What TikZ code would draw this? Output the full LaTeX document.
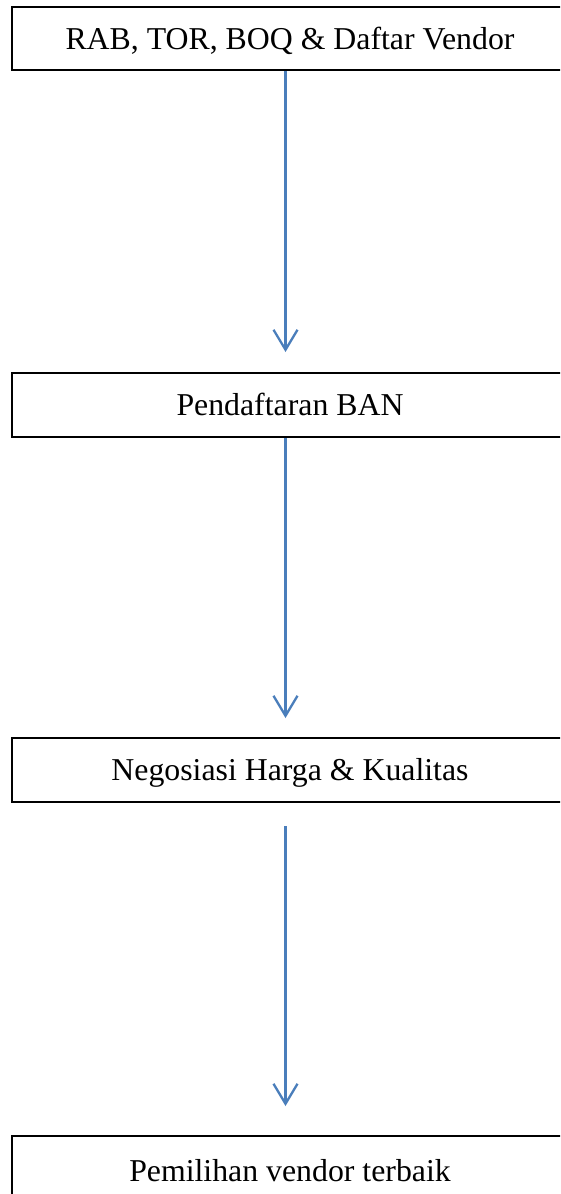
\documentclass[tikz,border=0pt]{standalone}
\usepackage{fontspec}
\setmainfont{Liberation Serif}
\usetikzlibrary{arrows.meta}
\definecolor{flowblue}{RGB}{74,126,187}
\begin{document}
\begin{tikzpicture}[x=1pt,y=-1pt,
  stepbox/.style={draw=black,line width=2pt,minimum width=556pt,inner sep=0pt,
    text height=21pt,text depth=0pt,font=\fontsize{31.8}{38}\selectfont},
  flow/.style={draw=flowblue,line width=2.3pt,
    -{Straight Barb[length=20pt,width=24pt,line join=miter]}}]
\useasboundingbox (0,0) rectangle (560,1194);
\clip (0,0) rectangle (560,1194);
\fill[white] (0,0) rectangle (560,1194);
\coordinate (ax) at (285.5,0);
\node[stepbox,minimum height=63pt] (b1) at (290,38.5) {RAB, TOR, BOQ \& Daftar Vendor};
\node[stepbox,minimum height=64pt] (b2) at (290,405) {Pendaftaran BAN};
\node[stepbox,minimum height=64pt] (b3) at (290,770) {Negosiasi Harga \& Kualitas};
\node[stepbox,minimum height=70pt] (b4) at (290,1171) {Pemilihan vendor terbaik};
\draw[flow,shorten >=20pt] (b1.south -| ax) -- (b2.north -| ax);
\draw[flow,shorten >=19pt] (b2.south -| ax) -- (b3.north -| ax);
\draw[flow,shorten <=23pt,shorten >=29pt] (b3.south -| ax) -- (b4.north -| ax);
\end{tikzpicture}
\end{document}
